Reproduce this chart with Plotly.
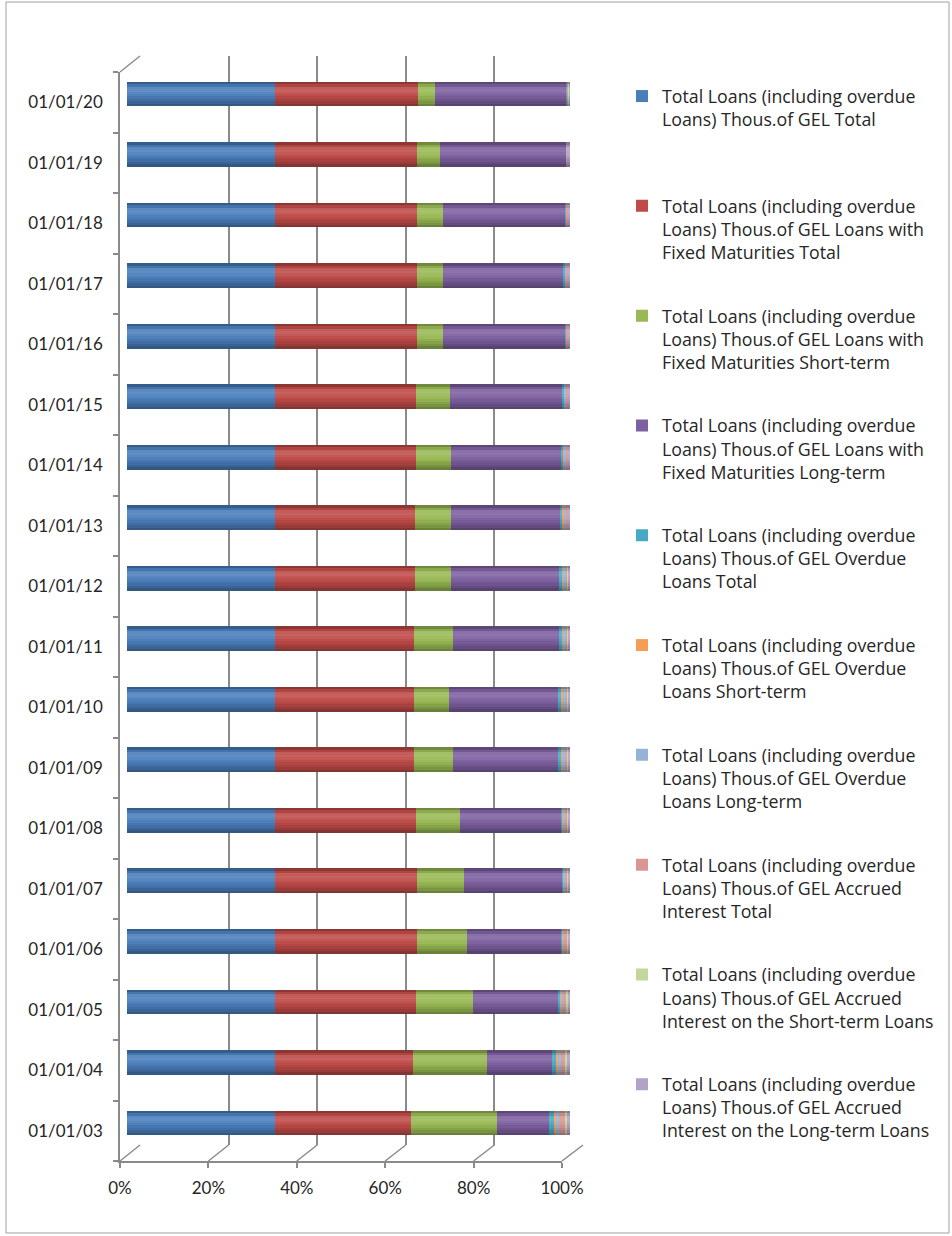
import textwrap
import plotly.graph_objects as go

# Reporting dates, oldest first (plotted bottom to top)
dates = ["01/01/03", "01/01/04", "01/01/05", "01/01/06", "01/01/07", "01/01/08",
         "01/01/09", "01/01/10", "01/01/11", "01/01/12", "01/01/13", "01/01/14",
         "01/01/15", "01/01/16", "01/01/17", "01/01/18", "01/01/19", "01/01/20"]

series_names = [
    "Total Loans (including overdue Loans) Thous.of GEL Total",
    "Total Loans (including overdue Loans) Thous.of GEL Loans with Fixed Maturities Total",
    "Total Loans (including overdue Loans) Thous.of GEL Loans with Fixed Maturities Short-term",
    "Total Loans (including overdue Loans) Thous.of GEL Loans with Fixed Maturities Long-term",
    "Total Loans (including overdue Loans) Thous.of GEL Overdue Loans Total",
    "Total Loans (including overdue Loans) Thous.of GEL Overdue Loans Short-term",
    "Total Loans (including overdue Loans) Thous.of GEL Overdue Loans Long-term",
    "Total Loans (including overdue Loans) Thous.of GEL Accrued Interest Total",
    "Total Loans (including overdue Loans) Thous.of GEL Accrued Interest on the Short-term Loans",
    "Total Loans (including overdue Loans) Thous.of GEL Accrued Interest on the Long-term Loans",
]

# Share of each series in the date's stacked total, %
total_loans = [33.3] * 18
fixed_total = [30.8, 31.2, 31.9, 32.1, 32.2, 31.9, 31.5, 31.5, 31.5, 31.7,
               31.7, 31.9, 31.9, 32.2, 32.2, 32.1, 32.2, 32.5]
fixed_short = [19.4, 16.7, 13.0, 11.3, 10.6, 10.0, 8.8, 7.9, 8.8, 8.1,
               8.1, 7.9, 7.7, 5.8, 5.8, 6.0, 5.2, 3.7]
fixed_long = [11.8, 14.7, 19.1, 21.4, 22.1, 22.8, 23.7, 24.6, 23.9, 24.4,
              24.6, 24.8, 25.3, 27.6, 27.3, 27.5, 28.4, 29.8]
overdue_total = [1.15, 1.0, 0.55, 0.3, 0.3, 0.4, 0.8, 0.85, 0.75, 0.75,
                 0.7, 0.6, 0.5, 0.2, 0.35, 0.2, 0.15, 0.1]
overdue_short = [0.45, 0.35, 0.15, 0.08, 0.08, 0.1, 0.2, 0.17, 0.15, 0.15,
                 0.14, 0.12, 0.1, 0.04, 0.07, 0.04, 0.03, 0.02]
overdue_long = [0.7, 0.65, 0.4, 0.22, 0.22, 0.3, 0.6, 0.68, 0.6, 0.6,
                0.56, 0.48, 0.4, 0.16, 0.28, 0.16, 0.12, 0.08]
accrued_total = [1.2, 1.05, 0.8, 0.65, 0.6, 0.6, 0.55, 0.5, 0.5, 0.5,
                 0.45, 0.45, 0.4, 0.35, 0.35, 0.35, 0.3, 0.25]
accrued_short = [0.45, 0.35, 0.25, 0.17, 0.15, 0.15, 0.12, 0.1, 0.1, 0.1,
                 0.09, 0.09, 0.08, 0.07, 0.07, 0.07, 0.06, 0.05]
accrued_long = [0.75, 0.7, 0.55, 0.48, 0.45, 0.45, 0.43, 0.4, 0.4, 0.4,
                0.36, 0.36, 0.32, 0.28, 0.28, 0.28, 0.24, 0.2]

series_values = [total_loans, fixed_total, fixed_short, fixed_long,
                 overdue_total, overdue_short, overdue_long,
                 accrued_total, accrued_short, accrued_long]

colors = ["#4A7EBB", "#BE4B48", "#98B954", "#7D60A0", "#46AAC5",
          "#F59D56", "#95B3D7", "#D99694", "#C3D69B", "#B3A2C7"]

pct_ticks = [0, 20, 40, 60, 80, 100]
pct_labels = ["0%", "20%", "40%", "60%", "80%", "100%"]

W, H = 952, 1236
FONT = "Lato"
LEGEND_FONT = "Open Sans"
GRID = "#8A8A8A"
BAR_WIDTH = 0.41


def px_x(v):
    return v / W


def px_y(v):
    return 1 - v / H


fig = go.Figure()

# bars (second subplot, drawn above the back-wall gridlines)
for i, (name, vals, col) in enumerate(zip(series_names, series_values, colors)):
    fig.add_trace(go.Bar(
        y=dates, x=vals, name="<br>".join(textwrap.wrap(name, 32)),
        orientation="h", marker=dict(color=col, line=dict(width=0)),
        width=BAR_WIDTH, xaxis="x2", yaxis="y2",
        legend="legend" if i == 0 else f"legend{i + 1}",
    ))

# cylinder shading: thin translucent strips laid over the whole stack,
# top to bottom; positive = darken, negative = lighten
shade_profile = [0.26, 0.08, -0.10, -0.13, -0.08, -0.02, 0.05, 0.12, 0.20, 0.30]
strip = BAR_WIDTH / len(shade_profile)
row_totals = [sum(col) for col in zip(*series_values)]
for k, a in enumerate(shade_profile):
    fill = f"rgba(0,0,0,{a})" if a > 0 else f"rgba(255,255,255,{-a})"
    fig.add_trace(go.Bar(
        y=dates, x=row_totals, orientation="h",
        offset=BAR_WIDTH / 2 - (k + 1) * strip, width=strip,
        marker=dict(color=fill, line=dict(width=0)), hoverinfo="skip",
        showlegend=False, xaxis=f"x{4 + k}", yaxis=f"y{4 + k}",
    ))

# invisible carrier traces so the wall and the front axes get drawn
fig.add_trace(go.Scatter(x=[0, 100], y=[0, 1], mode="markers",
                         marker=dict(opacity=0), hoverinfo="skip",
                         showlegend=False, xaxis="x", yaxis="y"))
fig.add_trace(go.Scatter(x=[0] * len(dates), y=dates, mode="markers",
                         marker=dict(opacity=0), hoverinfo="skip",
                         showlegend=False, xaxis="x3", yaxis="y3"))

back_l, back_r, back_t, back_b = 140, 583, 56, 1145
front_l, front_r, front_t, front_b = 120, 562, 72, 1161
bar_l, bar_r = 127, 570
band = (1123 - 94) / 17
bar_t, bar_b = 94 - band / 2, 1123 + band / 2

cat_axis = dict(type="category", categoryorder="array", categoryarray=dates,
                range=[-0.5, len(dates) - 0.5], automargin=False)

layout = dict(
    width=W, height=H,
    margin=dict(l=0, r=0, t=0, b=0, autoexpand=False),
    paper_bgcolor="white", plot_bgcolor="rgba(0,0,0,0)",
    barmode="stack", barnorm="percent",
    font=dict(family=FONT, size=17, color="#262626"),
    # back wall with vertical gridlines
    xaxis=dict(domain=[px_x(back_l), px_x(back_r)], range=[-0.05, 100.05],
               tickvals=pct_ticks, showgrid=True, gridcolor=GRID, gridwidth=1.5,
               showticklabels=False, zeroline=False, showline=False, ticks="",
               automargin=False),
    yaxis=dict(domain=[px_y(back_b), px_y(back_t)], range=[0, 1], visible=False,
               automargin=False),
    # bar plane
    xaxis2=dict(domain=[px_x(bar_l), px_x(bar_r)], range=[0, 100], visible=False,
                anchor="y2", automargin=False),
    yaxis2=dict(cat_axis, domain=[px_y(bar_b), px_y(bar_t)], visible=False,
                anchor="x2"),
    # front axes with the labels
    xaxis3=dict(domain=[px_x(front_l), px_x(front_r)], range=[0, 100],
                tickvals=pct_ticks, ticktext=pct_labels, showgrid=False,
                zeroline=False, showline=True, linecolor=GRID, linewidth=1.5,
                ticks="outside", ticklen=5, tickcolor=GRID, tickwidth=1.5,
                ticklabelstandoff=6, anchor="y3", automargin=False),
    yaxis3=dict(cat_axis, domain=[px_y(front_b), px_y(front_t)],
                showgrid=False, zeroline=False,
                showline=True, linecolor=GRID, linewidth=1.5,
                ticks="outside", ticklen=5, tickcolor=GRID, tickwidth=1.5,
                tickson="boundaries", ticklabelstandoff=12, anchor="x3"),
    showlegend=True,
)
for k in range(len(shade_profile)):
    layout[f"xaxis{4 + k}"] = dict(domain=[px_x(bar_l), px_x(bar_r)],
                                   range=[0, 100], visible=False,
                                   anchor=f"y{4 + k}", automargin=False)
    layout[f"yaxis{4 + k}"] = dict(cat_axis, domain=[px_y(bar_b), px_y(bar_t)],
                                   visible=False, anchor=f"x{4 + k}")

# one legend box per series, stacked down the right side
legend_top = 78
legend_step = 109.8
for i in range(len(series_names)):
    key = "legend" if i == 0 else f"legend{i + 1}"
    layout[key] = dict(
        x=px_x(622), y=px_y(legend_top + i * legend_step),
        xanchor="left", yanchor="top", valign="top",
        bgcolor="rgba(0,0,0,0)",
        font=dict(family=LEGEND_FONT, size=17.8, color="#262626"),
        itemclick=False, itemdoubleclick=False,
    )

fig.update_layout(**layout)

# floor and top-left edges joining the front axes to the back wall
edge = dict(type="line", xref="paper", yref="paper",
            line=dict(color=GRID, width=1.5))
shapes = []
for t in pct_ticks:
    fx = front_l + (front_r - front_l) * t / 100
    bx = back_l + (back_r - back_l) * t / 100
    shapes.append(dict(edge, x0=px_x(fx), y0=px_y(front_b), x1=px_x(bx), y1=px_y(back_b)))
shapes.append(dict(edge, x0=px_x(front_l), y0=px_y(front_t), x1=px_x(back_l), y1=px_y(back_t)))
# chart border
shapes.append(dict(type="rect", xref="paper", yref="paper",
                   x0=px_x(6), y0=px_y(1233), x1=px_x(949), y1=px_y(2),
                   line=dict(color="#A0A0A0", width=1)))
fig.update_layout(shapes=shapes)

fig.write_html("out.html")
